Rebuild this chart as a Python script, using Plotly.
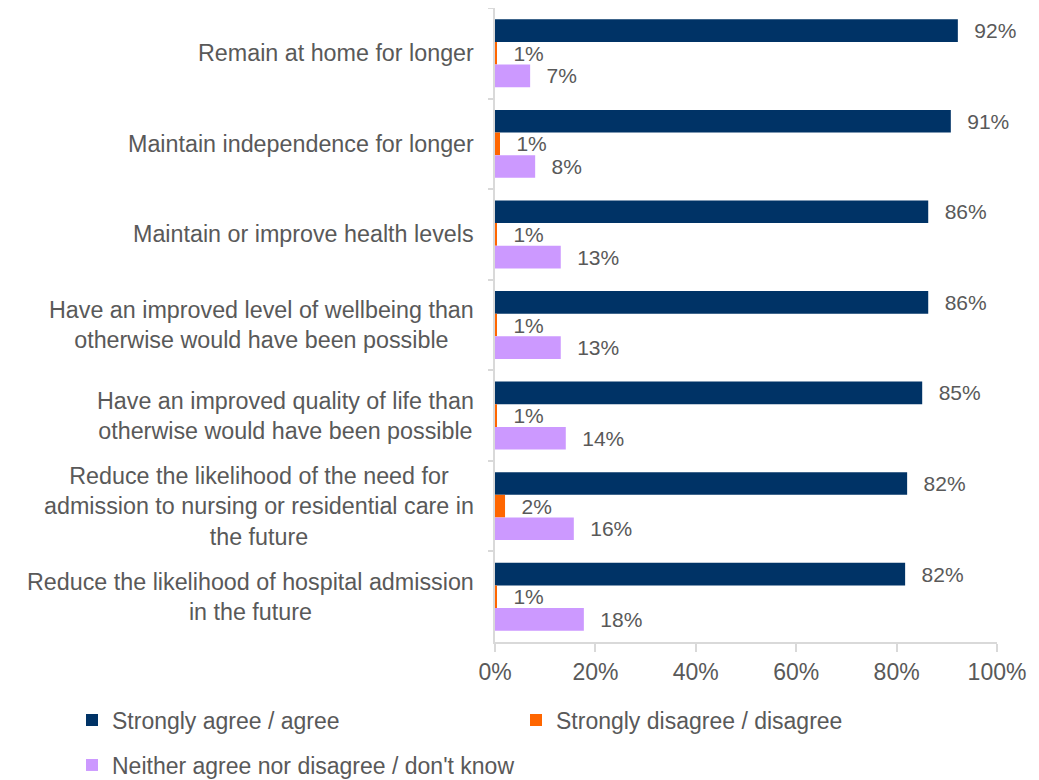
import plotly.graph_objects as go

categories = [
    "Remain at home for longer",
    "Maintain independence for longer",
    "Maintain or improve health levels",
    "Have an improved level of wellbeing than<br>otherwise would have been possible",
    "Have an improved quality of life than<br>otherwise would have been possible",
    "Reduce the likelihood of the need for<br>admission to nursing or residential care in<br>the future",
    "Reduce the likelihood of hospital admission<br>in the future",
]
cat_ids = [f"c{i}" for i in range(len(categories))]

agree = [92.2, 90.8, 86.3, 86.3, 85.1, 82.1, 81.7]
disagree = [0.3, 1.0, 0.3, 0.3, 0.3, 2.0, 0.3]
neither = [7.0, 8.0, 13.1, 13.1, 14.1, 15.7, 17.7]

agree_lbl = ["92%", "91%", "86%", "86%", "85%", "82%", "82%"]
disagree_lbl = ["1%", "1%", "1%", "1%", "1%", "2%", "1%"]
neither_lbl = ["7%", "8%", "13%", "13%", "14%", "16%", "18%"]

series_names = [
    "Strongly agree / agree",
    "Strongly disagree / disagree",
    "Neither agree nor disagree / don't know",
]
colors = ["#003366", "#FF6600", "#CC99FF"]
legend_ids = ["legend", "legend2", "legend3"]

FONT = "Liberation Sans, Arial, sans-serif"
GREY = "#595959"
LINE = "#D9D9D9"

W, H = 1031, 772

fig = go.Figure()
for name, vals, lbls, col, leg in zip(
    series_names, [agree, disagree, neither], [agree_lbl, disagree_lbl, neither_lbl], colors, legend_ids
):
    fig.add_trace(go.Bar(
        name=name, y=cat_ids, x=vals, orientation="h",
        marker=dict(color=col, line=dict(width=0)),
        text=["\u00a0\u00a0\u200a" + t for t in lbls],
        textposition="outside", constraintext="none", cliponaxis=False,
        textfont=dict(family=FONT, size=21, color=GREY),
        legend=leg, hoverinfo="skip",
    ))

for cid, lab in zip(cat_ids, categories):
    fig.add_annotation(
        x=0, xref="paper", y=cid, yref="y", xanchor="right", yanchor="middle",
        xshift=-19, text=lab, align="center", showarrow=False,
        font=dict(family=FONT, size=23.3, color=GREY),
    )

leg_common = dict(
    orientation="h", xref="container", yref="container", xanchor="left", yanchor="middle",
    font=dict(family=FONT, size=23, color=GREY), bgcolor="rgba(0,0,0,0)",
)

fig.update_layout(
    width=W, height=H,
    margin=dict(l=487, r=42, t=0, b=138),
    paper_bgcolor="white", plot_bgcolor="white",
    barmode="group", bargap=0.25, bargroupgap=0,
    font=dict(family=FONT, size=22, color=GREY),
    xaxis=dict(
        range=[0, 100], dtick=20, ticksuffix="%", showgrid=False, zeroline=False,
        showline=True, linecolor=LINE, linewidth=2,
        ticks="outside", ticklen=8, tickcolor=LINE, tickwidth=2,
        tickfont=dict(family=FONT, size=23, color=GREY),
    ),
    yaxis=dict(
        autorange="reversed", showgrid=False, zeroline=False, showticklabels=False,
        showline=True, linecolor=LINE, linewidth=2,
        ticks="outside", ticklen=5, tickcolor=LINE, tickwidth=2, tickson="boundaries",
    ),
    legend=dict(x=64 / W, y=1 - 712 / H, **leg_common),
    legend2=dict(x=508 / W, y=1 - 712 / H, **leg_common),
    legend3=dict(x=64 / W, y=1 - 757 / H, **leg_common),
    showlegend=True,
)

fig.write_html("out.html")
